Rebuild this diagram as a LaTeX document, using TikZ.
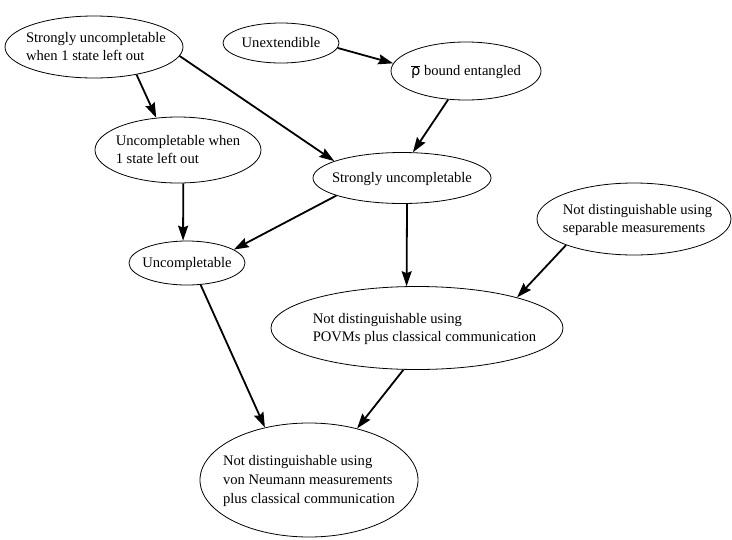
\documentclass[tikz,border=0pt]{standalone}
\usepackage{fontspec}
\setmainfont{Liberation Serif}
\newfontfamily\rhofont{DejaVu Sans}
\usetikzlibrary{shapes.geometric,arrows.meta}
\newcommand{\nlab}[2][0pt]{\smash{\makebox[0pt]{\hspace*{#1}\raisebox{-0.3em}{\begin{tabular}{@{}l@{}}#2\end{tabular}}}}}
\begin{document}
\begin{tikzpicture}[x=1pt,y=-1pt,
  ell/.style={ellipse,draw,line width=0.8pt,inner sep=0pt,
    font=\fontsize{14.6}{18.8}\selectfont},
  conn/.style={line width=1.8pt,-{Stealth[length=15pt,width=10pt,inset=2pt]}}]
\useasboundingbox (0,0) rectangle (732,539);
\node[ell,minimum width=178pt,minimum height=62pt] (s1) at (94,47) {\nlab[4pt]{Strongly uncompletable\\when 1 state left out}};
\node[ell,minimum width=116pt,minimum height=40pt] (ux) at (281,43) {\nlab{Unextendible}};
\node[ell,minimum width=150pt,minimum height=58pt] (rho) at (466,71) {\nlab{$\overline{\hbox{\rhofont ρ}}$ bound entangled}};
\node[ell,minimum width=166pt,minimum height=66pt] (u1) at (178,150) {\nlab{Uncompletable when\\1 state left out}};
\node[ell,minimum width=178pt,minimum height=51pt] (su) at (402,178) {\nlab{Strongly uncompletable}};
\node[ell,minimum width=116pt,minimum height=44pt] (u) at (187,263) {\nlab{Uncompletable}};
\node[ell,minimum width=194pt,minimum height=72pt] (sep) at (634,219) {\nlab[7pt]{Not distinguishable using\\separable measurements}};
\node[ell,minimum width=292pt,minimum height=83pt] (povm) at (417,328) {\nlab[15pt]{Not distinguishable using\\POVMs plus classical communication}};
\node[ell,minimum width=218pt,minimum height=114pt] (vn) at (309,480) {\nlab{Not distinguishable using\\von Neumann measurements\\plus classical communication}};
\draw[conn] (s1.-6.6) -- (su.166.3);
\draw[conn] (s1.-33) -- (u1.124.5);
\draw[conn] (u1.-81.4) -- (u.100);
\draw[conn] (ux.-5) -- (rho.174);
\draw[conn] (rho.-122) -- (su.67);
\draw[conn] (su.-165.3) -- (u.16.7);
\draw[conn] (su.-79) -- (povm.104);
\draw[conn] (sep.-159) -- (povm.17);
\draw[conn] (u.-58) -- (vn.130);
\draw[conn] (povm.-108.8) -- (vn.47.8);
\end{tikzpicture}
\end{document}
